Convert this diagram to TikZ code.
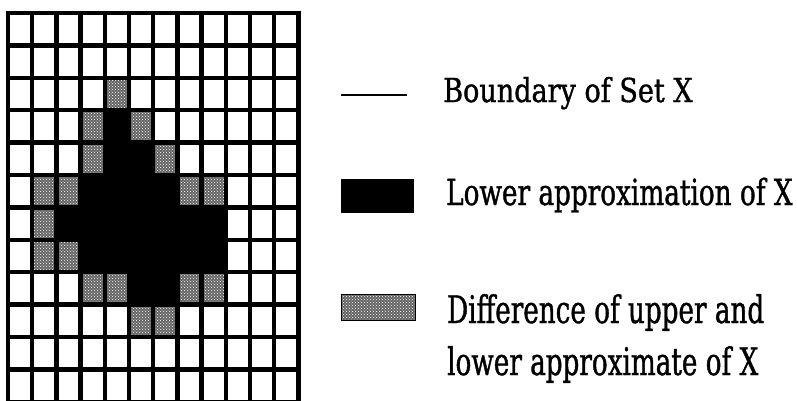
\documentclass[tikz,border=0pt]{standalone}
\usepackage{fontspec}
\usetikzlibrary{patterns, positioning}
\newfontfamily\boundfont[FakeStretch=0.82, FakeBold=1]{DejaVu Serif}
\newfontfamily\lowfont[FakeStretch=0.73, FakeBold=1]{DejaVu Serif}
\newfontfamily\difffont[FakeStretch=0.69, FakeBold=1]{DejaVu Serif}
\definecolor{mgray}{RGB}{100,100,100}

\begin{document}
\begin{tikzpicture}[x=1pt, y=-1pt,
  lowercell/.style={fill=black},
  diffcell/.style={preaction={fill=mgray}, pattern=crosshatch dots, pattern color=white},
  gridline/.style={line width=4.5pt},
  legtext/.style={anchor=base west, inner sep=0pt}
]
  \clip (0,0) rectangle (797,400);
  \fill[white] (0,0) rectangle (797,400);

  % cells of the approximations
  \foreach \c/\r in {4/3, 4/4, 5/4, 3/5, 4/5, 5/5, 6/5,
                     2/6, 3/6, 4/6, 5/6, 6/6, 7/6, 8/6,
                     3/7, 4/7, 5/7, 6/7, 7/7, 8/7, 5/8, 6/8}
    \fill[lowercell] ({8+24.2*\c},{13+32.4*\r}) rectangle +(24.2,32.4);
  \foreach \c/\r in {4/2, 3/3, 5/3, 3/4, 6/4, 1/5, 2/5, 7/5, 8/5,
                     1/6, 1/7, 2/7, 3/8, 4/8, 7/8, 8/8, 5/9, 6/9}
    \fill[diffcell] ({8+24.2*\c},{13+32.4*\r}) rectangle +(24.2,32.4);

  % grid
  \foreach \i in {0,...,12}
    \draw[gridline] ({8+24.2*\i},{13-2.25}) -- ({8+24.2*\i},410);
  \foreach \j in {0,...,12}
    \draw[gridline] ({8-2.25},{13+32.4*\j}) -- ({8+24.2*12+2.25},{13+32.4*\j});

  % legend
  \coordinate (bl) at (341,95);
  \coordinate (br) at (407,95);
  \draw[line width=2pt] (bl) -- (br);
  \node[legtext, font=\boundfont\fontsize{33}{40}\selectfont] (bound) at (443,102) {Boundary of Set X};

  \node[fill=black, minimum width=73pt, minimum height=34pt, inner sep=0pt] (lowbox) at (377.5,196) {};
  \node[legtext, font=\lowfont\fontsize{36}{42}\selectfont] (lowtext) at (446,205) {Lower approximation of X};

  \node[diffcell, draw=black, line width=1.5pt, minimum width=74pt, minimum height=26pt, inner sep=0pt] (diffbox) at (378.5,307.5) {};
  \node[legtext, font=\difffont\fontsize{38}{44}\selectfont] (difftext) at (447,323) {Difference of upper and};
  \node[legtext, font=\difffont\fontsize{38}{44}\selectfont] (difftext2) at (447,375) {lower approximate of X};
\end{tikzpicture}
\end{document}
